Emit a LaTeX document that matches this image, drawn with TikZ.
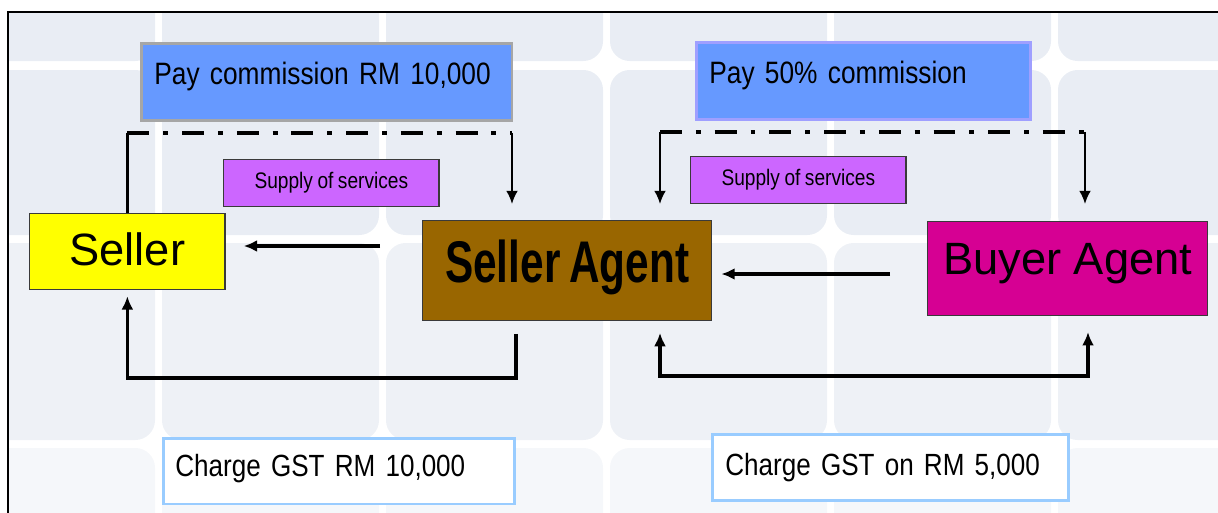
\documentclass[tikz,border=0pt]{standalone}
\usepackage{fontspec}
\setmainfont{Liberation Sans}
\newfontfamily\narrowfont{Liberation Sans}[FakeStretch=0.85, WordSpace=0.85]
\newfontfamily\agentfont{Liberation Sans}[FakeStretch=0.72, WordSpace=0.75]
\usepackage{tikz}
\usetikzlibrary{arrows.meta}
\definecolor{PAY}{HTML}{6699FF}
\definecolor{PAYL}{HTML}{A6A6A6}
\definecolor{PAYR}{HTML}{9F9FFF}
\definecolor{SRV}{HTML}{CC66FF}
\definecolor{SEL}{HTML}{FFFF00}
\definecolor{SAG}{HTML}{996600}
\definecolor{BAG}{HTML}{D60093}
\definecolor{GST}{HTML}{99CCFF}
\definecolor{DARK}{HTML}{3A3A3A}
\definecolor{TILEA}{HTML}{E9EDF4}
\definecolor{TILEB}{HTML}{EEF1F6}
\definecolor{TILEC}{HTML}{F5F7FA}
\tikzset{
  PAY/.style={% Style for the commission boxes
      rectangle, line width=2pt,
      anchor=north west,
      align=left,
      fill=PAY,
      font=\narrowfont\fontsize{22}{26}\selectfont,
      inner xsep=9.2pt, inner ysep=0pt,
      text height=29.1pt,
          text depth=25.5pt,
  },
  SRV/.style={% Style for the small service labels
      rectangle, line width=1pt,
      anchor=north west,
      fill=SRV, draw=DARK,
      minimum width=153.1pt, minimum height=33.3pt,
      inner sep=0pt,
      font=\narrowfont\fontsize{16}{19}\selectfont,
  },
  PTY/.style={% Style for the parties
      rectangle, line width=1pt,
      anchor=north west,
      draw=DARK,
      inner sep=0pt,
      font=\fontsize{32.2}{38}\selectfont,
  },
  GST/.style={% Style for the GST boxes
      rectangle, line width=2pt,
      anchor=north west,
      align=left,
      fill=white, draw=GST,
      inner xsep=9.2pt, inner ysep=0pt,
      font=\narrowfont\fontsize{21.8}{26}\selectfont,
  },
  COM/.style={line width=2.8pt, dash pattern=on 15.6pt off 9.9pt on 3.5pt off 9.9pt},
  LINK/.style={line width=1.7pt},
  FLOW/.style={line width=2.4pt, ->},
  >={Latex[length=9.5pt,width=8.5pt]}
}

\begin{document}
\begin{tikzpicture}[x=0.025cm, y=-0.025cm]
  \useasboundingbox (0,0) rectangle (1218,513);
  % tiles behind the frame
  \begin{scope}
    \clip (8,12) rectangle (1218,513);
    \foreach \ya/\yb/\col in {-40/61/TILEA, 70/235/TILEA, 243/440/TILEB, 448/640/TILEC} {
      \foreach \xa in {-62,162,386,610,834,1058} {
        \fill[\col, rounded corners=14pt] (\xa,\ya) rectangle ({\xa+217},\yb);
      }
    }
  \end{scope}
  \draw[line width=1.8pt] (1218,12) -- (8,12) -- (8,513);

  \node[PAY, draw=PAYL, text width=245.2pt] (payL) at (140,42) {Pay commission RM 10,000};
  \node[PAY, draw=PAYR, text width=219pt] (payR) at (695,41) {Pay 50\% commission};
  \node[SRV] (srvL) at (223,159) {Supply of services};
  \node[SRV] (srvR) at (690,156) {Supply of services};
  \node[PTY, fill=SEL, minimum width=138.9pt, text height=36.9pt, text depth=17pt] (seller) at (29,213) {Seller};
  \node[PTY, fill=SAG, minimum width=205.5pt, text height=43.9pt, text depth=26.9pt,
        font=\agentfont\bfseries\fontsize{41.8}{48}\selectfont] (sAgent) at (422,220) {Seller Agent};
  \node[PTY, fill=BAG, minimum width=199.1pt, text height=37.6pt, text depth=29.1pt] (bAgent) at (927,221) {Buyer Agent};
  \node[GST, text width=232.4pt, inner xsep=8.5pt, text height=26.9pt, text depth=19.8pt] (gstL) at (162,437) {Charge GST RM 10,000};
  \node[GST, text width=234.6pt, text height=29.1pt, text depth=17.7pt] (gstR) at (711,433) {Charge GST on RM 5,000};

  % commission paths
  \coordinate (cL1) at (seller.north |- 0,133);
  \coordinate (cL2) at (512,133);
  \coordinate (cR1) at (660,132);
  \coordinate (cR2) at (1085,132);
  \draw[LINK] (seller.north) -- (cL1);
  \draw[COM] (cL1) -- (cL2);
  \draw[LINK, ->, shorten >=11.3pt] (cL2) -- (cL2 |- sAgent.north);
  \draw[COM] (cR1) -- (cR2);
  \draw[LINK, ->, shorten >=11.3pt] (cR1) -- (cR1 |- sAgent.north);
  \draw[LINK, ->, shorten >=12pt] (cR2) -- (cR2 |- bAgent.north);

  % services
  \draw[FLOW, shorten <=29.8pt, shorten >=12.8pt] (sAgent.west |- 0,246) -- (seller.east |- 0,246);
  \draw[FLOW, shorten <=26.2pt, shorten >=6.4pt] (bAgent.west |- 0,274) -- (sAgent.east |- 0,274);

  % GST charged
  \draw[FLOW, shorten <=9.2pt, shorten >=4.3pt] (sAgent.south -| 516,0) -- ++(0,57) -| (seller.south);
  \draw[FLOW, <->, shorten <=8.5pt, shorten >=11.3pt] (sAgent.south -| 660,0) -- ++(0,55) -| (bAgent.south -| 1088,0);
\end{tikzpicture}
\end{document}
